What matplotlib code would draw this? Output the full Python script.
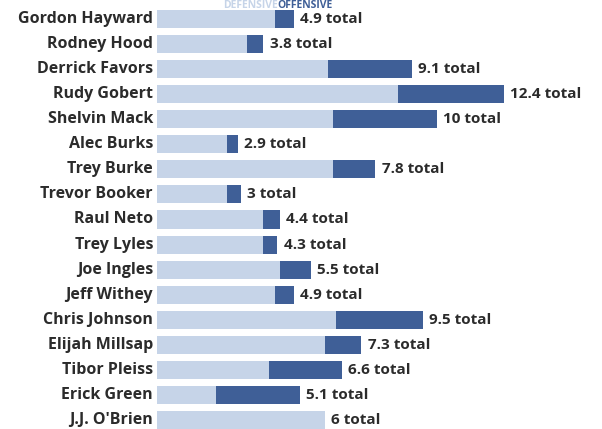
import matplotlib
matplotlib.use("Agg")
import matplotlib.pyplot as plt

# Players, top to bottom
players = [
    "Gordon Hayward", "Rodney Hood", "Derrick Favors", "Rudy Gobert",
    "Shelvin Mack", "Alec Burks", "Trey Burke", "Trevor Booker",
    "Raul Neto", "Trey Lyles", "Joe Ingles", "Jeff Withey",
    "Chris Johnson", "Elijah Millsap", "Tibor Pleiss", "Erick Green",
    "J.J. O'Brien",
]
# Defensive / offensive split
defensive = [4.2, 3.2, 6.1, 8.6, 6.3, 2.5, 6.3, 2.5, 3.8, 3.8, 4.4, 4.2, 6.4, 6.0, 4.0, 2.1, 6.0]
offensive = [0.7, 0.6, 3.0, 3.8, 3.7, 0.4, 1.5, 0.5, 0.6, 0.5, 1.1, 0.7, 3.1, 1.3, 2.6, 3.0, 0.0]
totals = ["4.9", "3.8", "9.1", "12.4", "10", "2.9", "7.8", "3", "4.4", "4.3",
          "5.5", "4.9", "9.5", "7.3", "6.6", "5.1", "6"]

light = "#c6d4e8"
dark = "#3f5f97"
txt = "#2b2b2b"
font = "Open Sans"

W, H = 602, 429
fig = plt.figure(figsize=(W / 100, H / 100), dpi=100)
ax = fig.add_axes([157 / W, 0, 445 / W, 1])

# pixel layout: 28 px per unit, row centres from y=19 with 25.06 px spacing
step = 25.06
ax.set_xlim(0, 445 / 28)
ax.set_ylim((H - 19) / step, -19 / step)

ys = range(len(players))
ax.barh(ys, defensive, height=0.72, color=light)
ax.barh(ys, offensive, left=defensive, height=0.72, color=dark)

for y, name, d, o, t in zip(ys, players, defensive, offensive, totals):
    ax.text(-0.14, y, name, ha="right", va="center", fontsize=11.5,
            fontweight="bold", color=txt, family=font, clip_on=False)
    ax.text(d + o + 0.22, y, f"{t} total", ha="left", va="center", fontsize=11,
            fontweight="bold", color=txt, family=font)

# legend header above the first bar
hy = -14 / step
ax.text(4.3, hy, "DEFENSIVE", ha="right", va="center", fontsize=7.5,
        fontweight="bold", color=light, family=font, clip_on=False)
ax.text(4.3, hy, "OFFENSIVE", ha="left", va="center", fontsize=7.5,
        fontweight="bold", color=dark, family=font, clip_on=False)

ax.axis("off")
fig.savefig("out.png", dpi=100)
